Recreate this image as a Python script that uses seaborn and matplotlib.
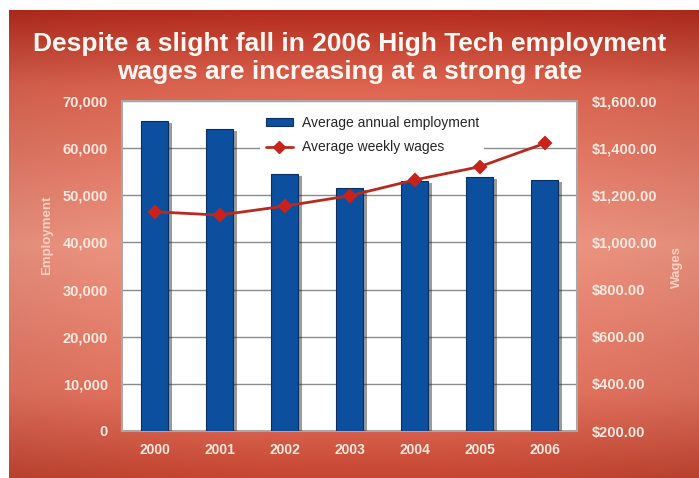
import numpy as np
import matplotlib
matplotlib.use("Agg")
import matplotlib.pyplot as plt
import matplotlib.patheffects as pe
from matplotlib.patches import Patch
from matplotlib.lines import Line2D
from matplotlib.ticker import FuncFormatter, MultipleLocator
import seaborn as sns

# Data
years = ["2000", "2001", "2002", "2003", "2004", "2005", "2006"]
employment = [65800, 64000, 54600, 51500, 53000, 53800, 53200]
weekly_wages = [1130, 1116, 1154, 1198, 1265, 1321, 1420]

title = "Despite a slight fall in 2006 High Tech employment\nwages are increasing at a strong rate"
bar_label = "Average annual employment"
line_label = "Average weekly wages"

sns.set_theme(style="white")
plt.rcParams["font.family"] = ["Liberation Sans", "DejaVu Sans"]

W, H = 699, 478
fig = plt.figure(figsize=(W / 100, H / 100), dpi=100, facecolor="white")

# Red gradient panel behind the chart
bg = fig.add_axes([0, 0, 1, 1], zorder=-10)
bg.set_xlim(0, W)
bg.set_ylim(H, 0)
bg.axis("off")
ny, nx = 240, 350
t = np.linspace(0, 1, ny)
stops_t = [0.0, 0.16, 0.5, 0.82, 1.0]
stops_c = np.array([[181, 44, 30], [222, 100, 80], [243, 152, 132],
                    [230, 116, 96], [198, 70, 50]], float) / 255
col = np.stack([np.interp(t, stops_t, stops_c[:, k]) for k in range(3)], axis=1)
u = np.linspace(-1, 1, nx)
shade = 1 - 0.07 * u ** 2
img = col[:, None, :] * shade[None, :, None]
bg.imshow(np.clip(img, 0, 1), extent=(9, W, H, 10), aspect="auto", interpolation="bilinear")

fig.text(0.5, 1 - 58 / H, title, ha="center", va="center", color="#fff8f2",
         fontsize=19, fontweight="bold", linespacing=1.2)

# Main plot area
left, right, top, bottom = 122, 577, 101, 431
ax = fig.add_axes([left / W, 1 - bottom / H, (right - left) / W, (bottom - top) / H])
ax.set_facecolor("white")

sns.barplot(x=years, y=employment, ax=ax, color="#0b4f9e", saturation=1,
            width=0.43, edgecolor="#0a2f5e", linewidth=0.8, zorder=3)
for p in ax.patches:
    p.set_path_effects([pe.SimplePatchShadow(offset=(2.5, -1.5), shadow_rgbFace="#222222", alpha=0.45),
                        pe.Normal()])

ax.set_ylim(0, 70000)
ax.set_xlim(-0.5, 6.5)
ax.yaxis.set_major_locator(MultipleLocator(10000))
ax.yaxis.set_major_formatter(FuncFormatter(lambda v, _: f"{int(v):,}"))
ax.yaxis.grid(True, color="#8c8c8c", linewidth=1.0)
ax.set_axisbelow(True)
for s in ax.spines.values():
    s.set_color("#a8a8a8")
    s.set_linewidth(1.5)

tick_color = "#fde9df"
ax.tick_params(axis="y", length=0, pad=10, labelsize=10.5, labelcolor=tick_color)
ax.tick_params(axis="x", length=0, pad=9, labelsize=10, labelcolor=tick_color)
for lab in ax.get_xticklabels() + ax.get_yticklabels():
    lab.set_fontweight("bold")
ax.set_xlabel("")
ax.set_ylabel("Employment", color="#fad0c0", fontsize=9.5, fontweight="bold")
ax.yaxis.set_label_coords(-(left - 53) / (right - left), (bottom - 235) / (bottom - top))

# Wages on the secondary axis
ax2 = ax.twinx()
sns.pointplot(x=years, y=weekly_wages, ax=ax2, color="#b82a20", markers="D",
              markersize=6.5, linewidth=2, errorbar=None)
for ln in ax2.lines:
    ln.set_markerfacecolor("#c8231b")
    ln.set_markeredgecolor("#c8231b")
    ln.set_zorder(5)
ax2.set_ylim(200, 1600)
ax2.set_xlim(-0.5, 6.5)
ax2.yaxis.set_major_locator(MultipleLocator(200))
ax2.yaxis.set_major_formatter(FuncFormatter(lambda v, _: f"${v:,.2f}"))
ax2.tick_params(axis="y", length=0, pad=11, labelsize=10.5, labelcolor=tick_color)
for lab in ax2.get_yticklabels():
    lab.set_fontweight("bold")
ax2.set_ylabel("Wages", color="#fad0c0", fontsize=9.5, fontweight="bold")
ax2.yaxis.set_label_coords(1 + (671 - right) / (right - left), (bottom - 267) / (bottom - top))
ax2.set_xlabel("")
ax2.grid(False)
for s in ax2.spines.values():
    s.set_visible(False)

handles = [Patch(facecolor="#0b4f9e", edgecolor="#0a2f5e", linewidth=0.8),
           Line2D([], [], color="#b82a20", linewidth=2, marker="D", markersize=6.5,
                  markerfacecolor="#c8231b", markeredgecolor="#c8231b")]
leg = ax2.legend(handles, [bar_label, line_label], loc="upper left",
                 bbox_to_anchor=((260 - left) / (right - left), (bottom - 110) / (bottom - top)),
                 borderaxespad=0, frameon=True, facecolor="white", edgecolor="none",
                 framealpha=1, fancybox=False, fontsize=10, handlelength=2.0,
                 handleheight=0.5, handletextpad=0.6, labelspacing=0.75, borderpad=0.4)
for txt in leg.get_texts():
    txt.set_color("#262626")

fig.savefig("out.png", dpi=100, facecolor="white")
